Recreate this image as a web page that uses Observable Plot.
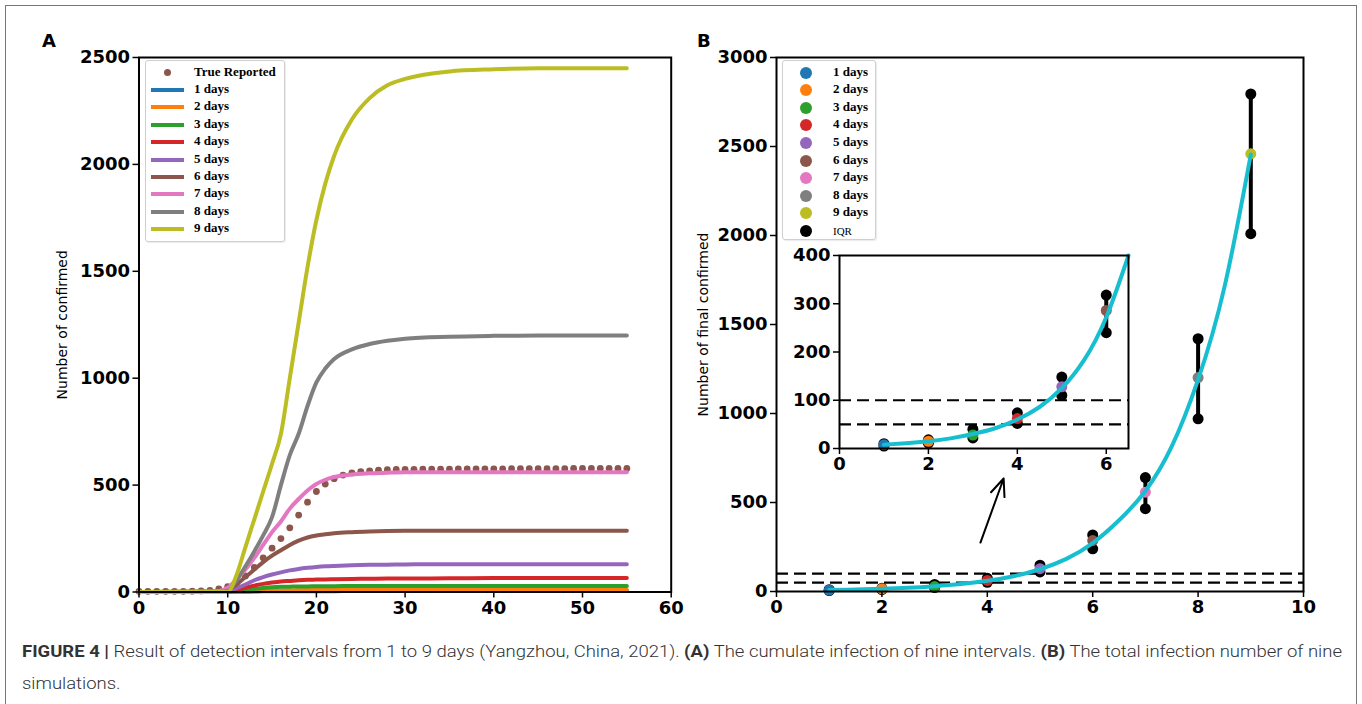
<!DOCTYPE html>
<html><head><meta charset="utf-8">
<script src="https://cdn.jsdelivr.net/npm/d3@7"></script>
<script src="https://cdn.jsdelivr.net/npm/@observablehq/plot@0.6"></script>
<style>
body{margin:0;background:#fff;overflow:hidden}
#root{position:relative;width:1362px;height:704px;overflow:hidden}
.abs{position:absolute}
.frameBox{position:absolute;left:5px;top:5px;width:1350px;height:760px;border:1.5px solid #777}
.panel{position:absolute;font-family:"DejaVu Sans",sans-serif;font-weight:bold;font-size:18px}
.legend{position:absolute;border:1px solid #cfcfcf;border-radius:3px;background:rgba(255,255,255,0.85);box-shadow:1px 1px 1px rgba(0,0,0,0.08)}
.lrow{position:absolute;font-family:"Liberation Serif","Times New Roman",serif;font-weight:bold;font-size:13px;line-height:14px;white-space:nowrap;color:#000}
.caption{position:absolute;left:22px;font-family:"Roboto","Liberation Sans",sans-serif;font-weight:300;font-size:17px;color:#333;white-space:nowrap;transform-origin:0 0}
.caption b{font-weight:bold}
</style></head>
<body><div id="root"><div class="frameBox"></div></div>
<script>
// ---------- Panel A data ----------
const seriesNames = ["1 days","2 days","3 days","4 days","5 days","6 days","7 days","8 days","9 days"];
const seriesColors = ["#1f77b4","#ff7f0e","#2ca02c","#d62728","#9467bd","#8c564b","#e377c2","#7f7f7f","#bcbd22"];
const days = [0, 9, 10, 11, 12, 13, 14, 15, 16, 17, 18, 19, 20, 21, 22, 24, 26, 28, 30, 35, 40, 45, 55];
const days1 = [0,0,0,0,1,2,3,3,4,4,4,4,4,4,4,5,5,5,5,5,5,5,5];
const days2 = [0,0,0,1,3,4,6,7,8,8,9,9,9,9,9,10,10,10,10,10,10,10,10];
const days3 = [0,0,1,5,10,15,19,22,24,25,26,26,27,27,27,28,28,28,28,28,28,28,28];
const days4 = [0,0,3,10,20,30,38,44,49,52,55,57,58,59,60,61,62,63,63,64,65,65,65];
const days5 = [0,1,5,18,35,55,70,82,92,101,108,113,117,120,122,125,127,128,129,130,130,130,130];
const days6 = [0,2,10,35,70,105,140,170,195,220,240,255,264,270,275,280,283,285,286,287,287,287,287];
const days7 = [0,5,20,60,105,160,220,280,330,390,435,475,505,525,538,550,555,558,560,560,560,560,560];
const days8 = [0,0,5,55,120,190,265,350,500,640,740,870,980,1045,1090,1135,1160,1175,1185,1194,1198,1200,1200];
const days9 = [0,0,0,80,210,340,470,600,740,1000,1260,1520,1740,1910,2040,2210,2310,2370,2400,2435,2445,2450,2450];
const reported = [3,3,3,3,3,3,4,5,8,15,25,45,75,115,160,205,250,300,360,420,470,505,530,547,557,563,567,570,572,573,574,574,575,575,575,575,576,576,576,576,576,576,577,577,577,577,577,577,577,578,578,578,578,578,578,578];
const xTicksA = [0,10,20,30,40,50,60];
const yTicksA = [0,500,1000,1500,2000,2500];

// ---------- Panel B data ----------
const intervals = [1,2,3,4,5,6,7,8,9];
const finalConfirmed = [8, 15, 28, 62, 128, 286, 558, 1202, 2459];
const iqrLow = [5, 11, 22, 52, 110, 240, 465, 970, 2010];
const iqrHigh = [10, 18, 40, 74, 148, 318, 640, 1420, 2795];
const fitX = [1,1.5,2,2.5,3,3.5,4,4.5,5,5.5,6,6.5,7,7.5,8,8.5,9];
const fitY = [8,11,15,21,30,42,60,86,125,183,272,400,565,815,1190,1710,2455];
const thresholds = [50, 100];
const xTicksB = [0,2,4,6,8,10];
const yTicksB = [0,500,1000,1500,2000,2500,3000];
const xTicksInset = [0,2,4,6];
const yTicksInset = [0,100,200,300,400];
const fitColor = "#17becf";
const arrowNote = [{x1: 3.87, y1: 275, x2: 4.31, y2: 635}];

// ---------- build tables ----------
const allSeries = [days1,days2,days3,days4,days5,days6,days7,days8,days9];
const linesA = [];
allSeries.forEach((vals, s) => vals.forEach((v, i) => linesA.push({day: days[i], value: v, series: seriesNames[s]})));
const reportedRows = reported.map((v, i) => ({day: i, value: v}));
const bRows = intervals.map((d, i) => ({x: d, y: finalConfirmed[i], lo: iqrLow[i], hi: iqrHigh[i], series: seriesNames[i]}));
const fitRows = fitX.map((x, i) => ({x, y: fitY[i]}));

const root = document.getElementById("root");
const fontStyle = {fontFamily: "DejaVu Sans, sans-serif", fontSize: "18px", fontWeight: "bold", background: "transparent", overflow: "visible"};
const color = {domain: seriesNames, range: seriesColors};

function place(el, left, top) { el.style.position = "absolute"; el.style.left = left + "px"; el.style.top = top + "px"; root.appendChild(el); }
function axes(xt, yt) {
  return [
    Plot.axisX({ticks: xt, tickFormat: "d", tickSize: 6, tickPadding: 3, strokeWidth: 1.5, label: null}),
    Plot.axisY({ticks: yt, tickFormat: "d", tickSize: 6, tickPadding: 3, strokeWidth: 1.5, label: null})
  ];
}

// ---------- Panel A ----------
const plotA = Plot.plot({
  width: 690, height: 640,
  marginLeft: 138.5, marginRight: 19.3, marginTop: 57, marginBottom: 48.5,
  style: fontStyle,
  x: {domain: [0, 60]}, y: {domain: [0, 2500]}, color,
  marks: [
    Plot.dot(reportedRows, {x: "day", y: "value", r: 3.4, fill: "#8c564b"}),
    Plot.line(linesA, {x: "day", y: "value", z: "series", stroke: "series", strokeWidth: 4, curve: "monotone-x"}),
    Plot.frame({stroke: "black", strokeWidth: 2}),
    ...axes(xTicksA, yTicksA),
    Plot.text(["Number of confirmed"], {frameAnchor: "left", textAnchor: "middle", rotate: -90, dx: -76.5, fontSize: 14, fontWeight: "normal"})
  ]
});
place(plotA, 0, 0);

// ---------- Panel B ----------
const plotB = Plot.plot({
  width: 672, height: 640,
  marginLeft: 86, marginRight: 59, marginTop: 57, marginBottom: 49,
  style: fontStyle,
  x: {domain: [0, 10]}, y: {domain: [0, 3000]}, color,
  marks: [
    Plot.ruleY(thresholds, {stroke: "black", strokeWidth: 2.2, strokeDasharray: "12,6"}),
    Plot.ruleX(bRows, {x: "x", y1: "lo", y2: "hi", stroke: "black", strokeWidth: 4}),
    Plot.dot(bRows, {x: "x", y: "lo", r: 5.5, fill: "black"}),
    Plot.dot(bRows, {x: "x", y: "hi", r: 5.5, fill: "black"}),
    Plot.dot(bRows, {x: "x", y: "y", r: 5.5, fill: "series"}),
    Plot.line(fitRows, {x: "x", y: "y", stroke: fitColor, strokeWidth: 4, curve: "natural"}),
    Plot.arrow(arrowNote, {x1: "x1", y1: "y1", x2: "x2", y2: "y2", stroke: "black", strokeWidth: 2, headLength: 14, headAngle: 45}),
    Plot.frame({stroke: "black", strokeWidth: 2}),
    ...axes(xTicksB, yTicksB),
    Plot.text(["Number of final confirmed"], {frameAnchor: "left", textAnchor: "middle", rotate: -90, dx: -73, fontSize: 14, fontWeight: "normal"})
  ]
});
place(plotB, 690, 0);

// ---------- Inset ----------
const insetRows = bRows.filter(d => d.x <= 6.5);
const insetFit = fitRows.filter(d => d.x <= 6.5);
const plotI = Plot.plot({
  width: 360, height: 250,
  marginLeft: 59, marginRight: 12, marginTop: 20, marginBottom: 37,
  style: fontStyle,
  x: {domain: [0, 6.5]}, y: {domain: [0, 400]}, color,
  marks: [
    Plot.ruleY(thresholds, {stroke: "black", strokeWidth: 2.2, strokeDasharray: "12,6"}),
    Plot.ruleX(insetRows, {x: "x", y1: "lo", y2: "hi", stroke: "black", strokeWidth: 4}),
    Plot.dot(insetRows, {x: "x", y: "lo", r: 5.5, fill: "black"}),
    Plot.dot(insetRows, {x: "x", y: "hi", r: 5.5, fill: "black"}),
    Plot.dot(insetRows, {x: "x", y: "y", r: 5.5, fill: "series"}),
    Plot.line(insetFit, {x: "x", y: "y", stroke: fitColor, strokeWidth: 4, curve: "natural"}),
    Plot.frame({stroke: "black", strokeWidth: 2}),
    ...axes(xTicksInset, yTicksInset)
  ]
});
place(plotI, 780, 235);

// ---------- panel letters ----------
[["A", 42, 30], ["B", 697, 30]].forEach(([t, x, y]) => {
  const d = document.createElement("div"); d.className = "panel"; d.textContent = t; place(d, x, y);
});

// ---------- legends ----------
function legend(left, top, w, h, rows, step, y0) {
  const box = document.createElement("div"); box.className = "legend";
  box.style.width = w + "px"; box.style.height = h + "px"; place(box, left, top);
  rows.forEach((r, i) => {
    const cy = y0 + step * i;
    let sw;
    if (r.kind === "line") {
      sw = document.createElement("div");
      Object.assign(sw.style, {position: "absolute", left: "5px", top: (cy - 2) + "px", width: "33px", height: "4px", background: r.color});
    } else {
      sw = document.createElement("div");
      const rr = r.r;
      Object.assign(sw.style, {position: "absolute", left: (r.cx - rr) + "px", top: (cy - rr) + "px", width: 2 * rr + "px", height: 2 * rr + "px", borderRadius: "50%", background: r.color});
    }
    box.appendChild(sw);
    const t = document.createElement("div"); t.className = "lrow"; t.textContent = r.label;
    t.style.left = r.tx + "px"; t.style.top = (cy - 8) + "px";
    if (r.plain) { t.style.fontWeight = "normal"; t.style.fontSize = "11px"; t.style.top = (cy - 7) + "px"; }
    box.appendChild(t);
  });
}
legend(145, 60, 138, 180,
  [{kind: "dot", color: "#8c564b", label: "True Reported", r: 3.5, cx: 21, tx: 48}]
    .concat(seriesNames.map((n, i) => ({kind: "line", color: seriesColors[i], label: n, tx: 48}))),
  17.4, 11.5);
legend(782, 60, 92, 178,
  seriesNames.map((n, i) => ({kind: "dot", color: seriesColors[i], label: n, r: 6, cx: 23, tx: 50}))
    .concat([{kind: "dot", color: "#000", label: "IQR", r: 6, cx: 23, tx: 50, plain: true}]),
  17.6, 11.5);

// ---------- caption ----------
const cap1 = document.createElement("div"); cap1.className = "caption";
cap1.innerHTML = "<b>FIGURE 4 |</b> Result of detection intervals from 1 to 9 days (Yangzhou, China, 2021). <b>(A)</b> The cumulate infection of nine intervals. <b>(B)</b> The total infection number of nine";
place(cap1, 22, 641);
const cap2 = document.createElement("div"); cap2.className = "caption"; cap2.textContent = "simulations.";
place(cap2, 22, 673);
const sx = 1320 / cap1.getBoundingClientRect().width;
cap1.style.transform = `scaleX(${sx})`; cap2.style.transform = `scaleX(${sx})`;
</script>
</body></html>
